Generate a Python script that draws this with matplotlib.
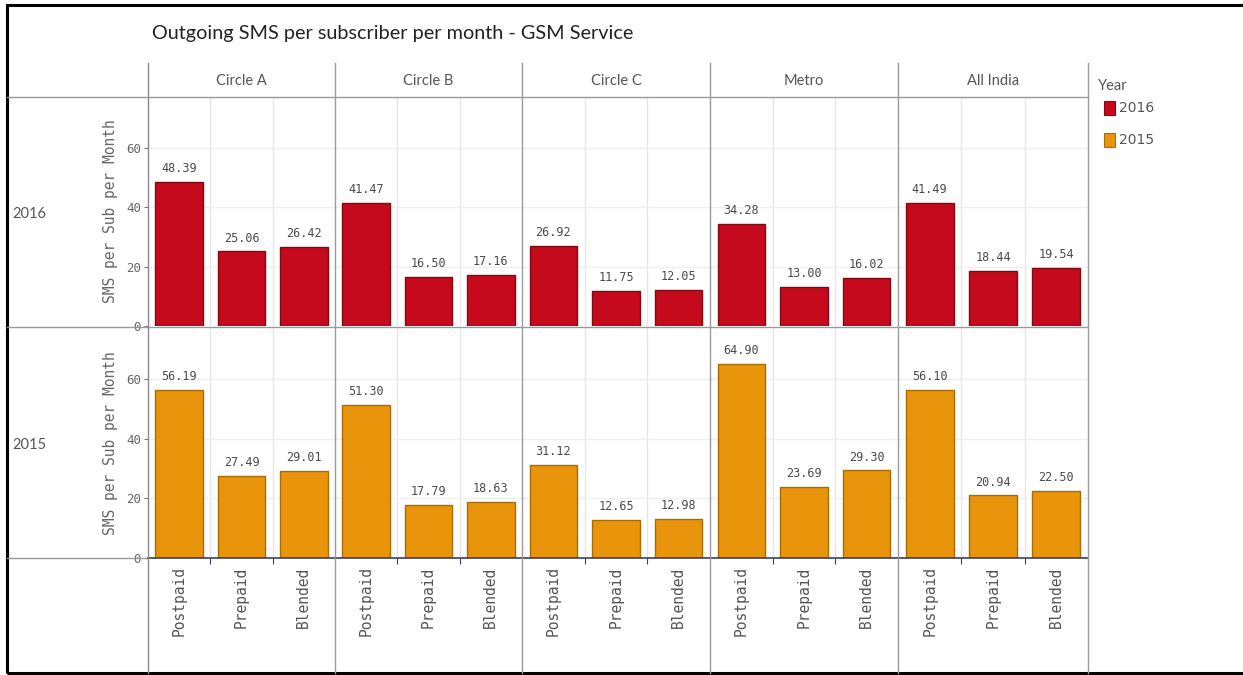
import matplotlib
matplotlib.use("Agg")
import matplotlib.pyplot as plt
from matplotlib.lines import Line2D
from matplotlib.patches import Rectangle

# ---- data -------------------------------------------------------------
regions = ["Circle A", "Circle B", "Circle C", "Metro", "All India"]
plans = ["Postpaid", "Prepaid", "Blended"]
years = ["2016", "2015"]

sms_2016_circle_a = [48.39, 25.06, 26.42]
sms_2016_circle_b = [41.47, 16.50, 17.16]
sms_2016_circle_c = [26.92, 11.75, 12.05]
sms_2016_metro = [34.28, 13.00, 16.02]
sms_2016_all_india = [41.49, 18.44, 19.54]

sms_2015_circle_a = [56.19, 27.49, 29.01]
sms_2015_circle_b = [51.30, 17.79, 18.63]
sms_2015_circle_c = [31.12, 12.65, 12.98]
sms_2015_metro = [64.90, 23.69, 29.30]
sms_2015_all_india = [56.10, 20.94, 22.50]

values = {
    "2016": [sms_2016_circle_a, sms_2016_circle_b, sms_2016_circle_c,
             sms_2016_metro, sms_2016_all_india],
    "2015": [sms_2015_circle_a, sms_2015_circle_b, sms_2015_circle_c,
             sms_2015_metro, sms_2015_all_india],
}

# ---- styling ----------------------------------------------------------
bar_colors = {"2016": "#c40a1c", "2015": "#e8950c"}
edge_colors = {"2016": "#7e0a12", "2015": "#a86c05"}
NARROW = ["Lato", "DejaVu Sans"]
MONO = ["DejaVu Sans Mono"]
GRID = "#efefef"
SEP = "#9a9a9a"

W, H = 1243, 675
fig = plt.figure(figsize=(W / 100, H / 100), dpi=100)


def fx(px):
    return px / W


def fy(py):
    return 1 - py / H


col_edges = [148, 335, 522, 710, 898, 1088]
row_spans = {"2016": (97, 326), "2015": (328, 558)}

for r, year in enumerate(years):
    top, bottom = row_spans[year]
    for c, region in enumerate(regions):
        x0, x1 = col_edges[c], col_edges[c + 1]
        ax = fig.add_axes([fx(x0), fy(bottom), (x1 - x0) / W, (bottom - top) / H])
        ax.set_facecolor("none")
        vals = values[year][c]
        ax.bar(range(len(plans)), vals, width=0.76, color=bar_colors[year],
               edgecolor=edge_colors[year], linewidth=1.0, zorder=3)
        for i, v in enumerate(vals):
            ax.annotate(f"{v:.2f}", (i, v), xytext=(0, 5), textcoords="offset points",
                        ha="center", va="bottom", fontsize=8.5, family=MONO,
                        color="#4a4a4a", zorder=4)
        ax.set_xlim(-0.5, len(plans) - 0.5)
        ax.set_ylim(0, 77)
        ax.set_yticks([0, 20, 40, 60])
        ax.yaxis.grid(True, color=GRID, linewidth=1.0, zorder=0)
        for b in [0.5, 1.5]:
            ax.axvline(b, color="#e6e6e6", linewidth=1.0, zorder=0)
        for s in ax.spines.values():
            s.set_visible(False)
        if c == 0:
            ax.tick_params(axis="y", length=3, width=0.8, color="#777",
                           labelsize=9, labelcolor="#666", pad=2)
            for lab in ax.get_yticklabels():
                lab.set_family(MONO)
        else:
            ax.tick_params(axis="y", length=0, labelleft=False)
        if r == len(years) - 1:
            ax.set_xticks(range(len(plans)))
            ax.set_xticklabels(plans, rotation=90, family=MONO, fontsize=10.5,
                               color="#555", va="top", ha="center")
            ax.tick_params(axis="x", which="major", length=0, pad=6)
            ax.set_xticks([0.5, 1.5], minor=True)
            ax.tick_params(axis="x", which="minor", length=4, width=0.8,
                           color="#3c3c64")
        else:
            ax.set_xticks([])

    # row header and y-axis title
    fig.text(fx(12), fy((top + bottom) / 2 + 2), year, family=NARROW,
             fontsize=10.5, color="#555", ha="left", va="center")
    fig.text(fx(111), fy((top + bottom) / 2), "SMS per Sub per Month", family=MONO,
             fontsize=10.5, color="#666", rotation=90, ha="center", va="center")

# column headers
for c, region in enumerate(regions):
    cx = (col_edges[c] + col_edges[c + 1]) / 2
    fig.text(fx(cx), fy(81), region, family=NARROW, fontsize=10.5,
             color="#555", ha="center", va="center")

# title
fig.text(fx(152), fy(33), "Outgoing SMS per subscriber per month - GSM Service",
         family=NARROW, fontsize=14.3, color="#222", ha="left", va="center")

# separators
def hline(y, xa, xb, color=SEP, lw=1.0):
    fig.add_artist(Line2D([fx(xa), fx(xb)], [fy(y), fy(y)], color=color,
                          linewidth=lw, transform=fig.transFigure))


def vline(x, ya, yb, color=SEP, lw=1.0):
    fig.add_artist(Line2D([fx(x), fx(x)], [fy(ya), fy(yb)], color=color,
                          linewidth=lw, transform=fig.transFigure))


hline(97, 7, 1088)
hline(327, 7, 1088)
hline(558, 7, 148)
hline(558, 148, 1088, color="#3c3c64", lw=1.2)
for i, x in enumerate(col_edges):
    vline(x, 63, 673, color="#8a8a8a" if i == 0 else SEP)

# legend
fig.text(fx(1098), fy(86), "Year", family=NARROW, fontsize=10.5, color="#555",
         ha="left", va="center")
for k, year in enumerate(years):
    yc = 108 + 32 * k
    fig.add_artist(Rectangle((fx(1104), fy(yc + 7)), 11 / W, 14 / H,
                             facecolor=bar_colors[year], edgecolor=edge_colors[year],
                             linewidth=0.8, transform=fig.transFigure))
    fig.text(fx(1119), fy(yc), year, family=["DejaVu Sans"], fontsize=10,
             color="#555", ha="left", va="center")

# outer frame
fig.add_artist(Rectangle((fx(7), fy(673)), (1260 - 7) / W, (673 - 5) / H,
                         fill=False, edgecolor="black", linewidth=2.2,
                         transform=fig.transFigure))

fig.savefig("out.png", dpi=100)
